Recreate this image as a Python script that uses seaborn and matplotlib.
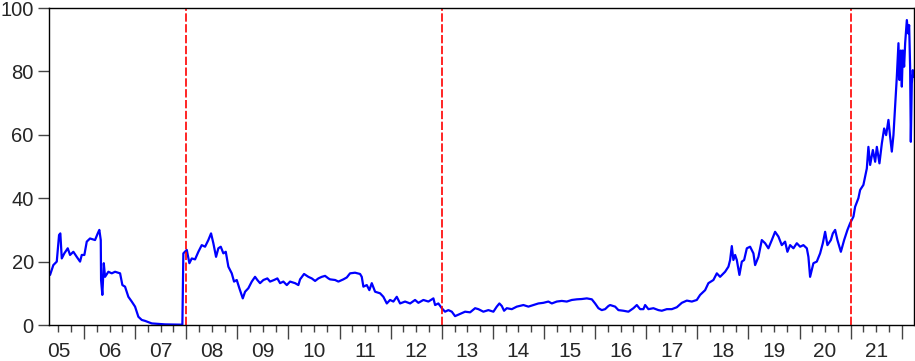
import numpy as np
import pandas as pd
import seaborn as sns
import matplotlib.pyplot as plt
from matplotlib.ticker import MultipleLocator

# series (decimal year, value)
years = [
    2005.335, 2005.399, 2005.466, 2005.511, 2005.536, 2005.564, 2005.614, 2005.681, 2005.726, 2005.791,
    2005.857, 2005.922, 2005.955, 2006.006, 2006.053, 2006.117, 2006.215, 2006.268, 2006.299, 2006.327,
    2006.333, 2006.358, 2006.386, 2006.411, 2006.476, 2006.542, 2006.607, 2006.705, 2006.750, 2006.802,
    2006.867, 2006.933, 2006.998, 2007.063, 2007.129, 2007.194, 2007.325, 2007.585, 2007.924, 2007.943,
    2008.010, 2008.061, 2008.108, 2008.172, 2008.237, 2008.303, 2008.368, 2008.432, 2008.485, 2008.530,
    2008.583, 2008.628, 2008.675, 2008.726, 2008.773, 2008.824, 2008.890, 2008.935, 2008.988, 2009.039,
    2009.106, 2009.151, 2009.215, 2009.282, 2009.346, 2009.391, 2009.444, 2009.509, 2009.587, 2009.640,
    2009.718, 2009.783, 2009.836, 2009.900, 2009.967, 2010.031, 2010.129, 2010.194, 2010.227, 2010.305,
    2010.389, 2010.456, 2010.521, 2010.585, 2010.652, 2010.716, 2010.781, 2010.814, 2010.912, 2010.977,
    2011.074, 2011.141, 2011.205, 2011.303, 2011.401, 2011.434, 2011.466, 2011.532, 2011.583, 2011.630,
    2011.695, 2011.793, 2011.857, 2011.924, 2011.988, 2012.053, 2012.119, 2012.184, 2012.282, 2012.380,
    2012.477, 2012.542, 2012.640, 2012.738, 2012.836, 2012.869, 2012.933, 2013.000, 2013.064, 2013.129,
    2013.196, 2013.260, 2013.358, 2013.456, 2013.554, 2013.652, 2013.716, 2013.814, 2013.912, 2014.010,
    2014.076, 2014.127, 2014.174, 2014.219, 2014.272, 2014.370, 2014.468, 2014.597, 2014.695, 2014.793,
    2014.890, 2014.988, 2015.086, 2015.153, 2015.250, 2015.348, 2015.446, 2015.544, 2015.642, 2015.740,
    2015.838, 2015.936, 2016.000, 2016.065, 2016.131, 2016.196, 2016.261, 2016.294, 2016.392, 2016.456,
    2016.554, 2016.652, 2016.750, 2016.816, 2016.881, 2016.945, 2016.979, 2017.043, 2017.141, 2017.239,
    2017.305, 2017.403, 2017.501, 2017.599, 2017.697, 2017.795, 2017.893, 2017.990, 2018.055, 2018.153,
    2018.217, 2018.315, 2018.382, 2018.446, 2018.544, 2018.609, 2018.642, 2018.675, 2018.706, 2018.740,
    2018.773, 2018.824, 2018.871, 2018.916, 2018.969, 2019.033, 2019.098, 2019.131, 2019.196, 2019.262,
    2019.327, 2019.391, 2019.458, 2019.522, 2019.587, 2019.653, 2019.718, 2019.763, 2019.816, 2019.881,
    2019.947, 2020.012, 2020.076, 2020.143, 2020.174, 2020.207, 2020.272, 2020.338, 2020.403, 2020.456,
    2020.501, 2020.546, 2020.613, 2020.652, 2020.697, 2020.742, 2020.809, 2020.873, 2020.938, 2020.990,
    2021.055, 2021.088, 2021.152, 2021.186, 2021.250, 2021.317, 2021.348, 2021.382, 2021.435, 2021.480,
    2021.513, 2021.564, 2021.611, 2021.656, 2021.695, 2021.740, 2021.773, 2021.806, 2021.838, 2021.871,
    2021.904, 2021.936, 2021.955, 2021.983, 2022.002, 2022.022, 2022.047, 2022.067, 2022.100, 2022.125,
    2022.145, 2022.164, 2022.178, 2022.197, 2022.217, 2022.229,
]
values = [
    15.8, 18.9, 20.0, 28.4, 28.9, 21.0, 22.6, 24.2, 22.1, 23.1,
    21.5, 20.0, 22.1, 22.1, 26.3, 27.3, 26.8, 28.9, 30.0, 26.8,
    14.2, 9.5, 19.5, 15.2, 16.8, 16.3, 16.8, 16.3, 12.6, 12.1,
    8.9, 7.4, 5.8, 2.6, 1.6, 1.3, 0.5, 0.2, 0.1, 22.6,
    23.7, 19.5, 21.0, 20.7, 23.1, 25.2, 24.7, 26.8, 28.9, 25.8,
    21.5, 24.2, 24.7, 22.6, 23.1, 18.4, 16.3, 13.7, 14.2, 11.6,
    8.4, 10.5, 11.6, 13.7, 15.2, 14.2, 13.2, 14.2, 14.7, 13.7,
    14.2, 14.7, 13.2, 13.7, 12.6, 13.7, 13.2, 12.6, 14.4, 16.1,
    15.2, 14.7, 13.9, 14.7, 15.2, 15.5, 14.7, 14.4, 14.2, 13.7,
    14.4, 15.0, 16.3, 16.5, 16.1, 15.2, 12.1, 12.6, 11.0, 13.2,
    10.5, 10.0, 8.9, 6.8, 7.9, 7.4, 8.9, 6.8, 7.4, 6.8,
    7.9, 7.0, 7.9, 7.4, 8.4, 6.3, 6.8, 5.3, 4.2, 4.7,
    4.2, 2.8, 3.5, 4.2, 4.0, 5.3, 5.0, 4.2, 4.7, 4.2,
    5.8, 6.8, 6.0, 4.5, 5.3, 5.0, 5.8, 6.3, 5.8, 6.3,
    6.8, 7.0, 7.4, 6.8, 7.4, 7.6, 7.4, 7.9, 8.1, 8.2,
    8.4, 8.1, 6.8, 5.3, 4.7, 5.0, 6.0, 6.3, 5.8, 4.7,
    4.5, 4.2, 5.3, 6.3, 5.0, 5.0, 6.3, 5.0, 5.3, 4.7,
    4.5, 5.0, 5.0, 5.6, 7.0, 7.7, 7.4, 7.9, 9.5, 11.0,
    13.2, 14.2, 16.3, 15.2, 16.8, 18.4, 20.5, 24.9, 20.5, 22.1,
    20.5, 15.8, 20.0, 20.5, 24.2, 24.7, 22.6, 18.9, 21.5, 26.8,
    25.8, 24.2, 26.8, 29.4, 27.9, 25.2, 26.3, 23.1, 25.2, 24.2,
    25.8, 24.7, 25.2, 24.2, 21.5, 15.2, 19.5, 20.0, 22.6, 25.8,
    29.4, 25.2, 26.8, 28.9, 30.0, 26.8, 23.1, 26.8, 30.0, 32.1,
    34.2, 37.3, 40.0, 42.6, 44.2, 49.4, 56.2, 50.5, 55.2, 51.5,
    56.2, 51.0, 57.3, 62.0, 59.9, 64.7, 59.4, 54.7, 59.9, 68.9,
    78.3, 88.9, 77.3, 86.6, 75.2, 86.6, 81.5, 88.9, 96.2, 92.0,
    94.6, 81.5, 57.8, 76.2, 80.4, 78.3,
]

# break dates (red dashed lines)
breaks = [2008.0, 2013.0, 2021.0]

year_labels = ["05", "06", "07", "08", "09", "10", "11", "12", "13",
               "14", "15", "16", "17", "18", "19", "20", "21"]
label_pos = [2005.5 + i for i in range(len(year_labels))]

df = pd.DataFrame({"year": years, "value": values})

sns.set_style("ticks")
plt.rcParams['font.family'] = ['Liberation Sans', 'DejaVu Sans']

fig = plt.figure(figsize=(9.15, 3.61), dpi=100)
ax = fig.add_axes([0.0536, 0.0997, 0.9453, 0.8781])

sns.lineplot(data=df, x="year", y="value", ax=ax, color="#0000FF", linewidth=1.6)

for b in breaks:
    ax.axvline(b, color="#FF0000", linewidth=1.2, linestyle=(0, (5, 1.5)))

ax.set_xlim(2005.315, 2022.24)
ax.set_ylim(0, 100)
ax.set_xlabel("")
ax.set_ylabel("")

# year and quarter ticks, no labels on them
ax.xaxis.set_major_locator(MultipleLocator(1))
ax.xaxis.set_minor_locator(MultipleLocator(0.25))
ax.tick_params(axis="x", which="major", length=10, width=1, color="#444444", labelbottom=False)
ax.tick_params(axis="x", which="minor", length=5, width=1, color="#444444")

# year labels centred in each year
sec = ax.secondary_xaxis("bottom")
sec.set_xticks(label_pos)
sec.set_xticklabels(year_labels)
sec.tick_params(length=0, pad=12, labelsize=15)
sec.spines["bottom"].set_visible(False)

ax.set_yticks([0, 20, 40, 60, 80, 100])
ax.tick_params(axis="y", length=8, width=1, color="#444444", labelsize=14.5, pad=3)

for s in ax.spines.values():
    s.set_color("black")
    s.set_linewidth(1.0)

fig.savefig("out.png", dpi=100)
